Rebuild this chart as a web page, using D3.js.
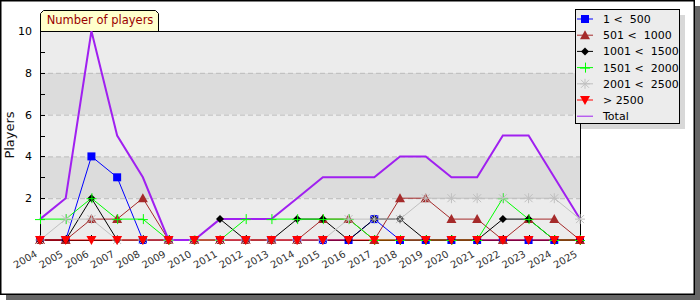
<!DOCTYPE html>
<html lang="en">
<head>
  <meta charset="UTF-8">
  <title>Number of players</title>
  <script src="https://d3js.org/d3.v7.min.js"></script>
  <style type="text/css">
    body { margin: 0; background: #fff; }
    text { font-family: "DejaVu Sans", sans-serif; }
  </style>
</head>
<body>
<script type="text/javascript">
  var years = d3.range(2004, 2026);
  var yTicks = [2, 4, 6, 8, 10];

  var seriesNames = ["1 < 500", "501 < 1000", "1001 < 1500", "1501 < 2000", "2001 < 2500", "> 2500", "Total"];
  var blueVals  = [0,0,4,3,0,0,0,0,0,0,0,0,0,1,0,0,0,0,0,0,0,0];
  var brownVals = [0,0,1,1,2,0,0,0,0,0,0,1,1,0,2,2,1,1,0,1,1,0];
  var blackVals = [0,0,2,0,0,0,0,1,0,0,1,1,0,1,1,0,0,0,1,1,0,0];
  var greenVals = [1,1,2,1,1,0,0,0,1,1,1,1,1,0,0,0,0,0,2,1,0,0];
  var grayVals  = [0,1,1,0,0,0,0,0,0,0,0,0,1,1,1,2,2,2,2,2,2,1];
  var redVals   = [0,0,0,0,0,0,0,0,0,0,0,0,0,0,0,0,0,0,0,0,0,0];
  var totalVals = [1,2,10,5,3,0,0,1,1,1,2,3,3,3,4,4,3,3,5,5,3,1];

  var series = [
    {name: seriesNames[0], vals: blueVals,  color: "#0000ff", mark: "square"},
    {name: seriesNames[1], vals: brownVals, color: "#a52a2a", mark: "triUp"},
    {name: seriesNames[2], vals: blackVals, color: "#000000", mark: "diamond"},
    {name: seriesNames[3], vals: greenVals, color: "#00ff00", mark: "cross"},
    {name: seriesNames[4], vals: grayVals,  color: "#c0c0c0", mark: "star"},
    {name: seriesNames[5], vals: redVals,   color: "#ff0000", mark: "triDown"},
    {name: seriesNames[6], vals: totalVals, color: "#a020f0", mark: "none"}
  ];

  var W = 700, H = 300;
  var svg = d3.select("body").append("svg").attr("width", W).attr("height", H);

  // frame + shadow
  svg.append("rect").attr("x", 6).attr("y", 6).attr("width", 694).attr("height", 294).attr("fill", "#666");
  svg.append("rect").attr("x", 0.75).attr("y", 0.75).attr("width", 693.5).attr("height", 293.5)
     .attr("fill", "#fff").attr("stroke", "#000").attr("stroke-width", 1.5);

  var x = d3.scaleLinear().domain([2004, 2025]).range([40, 580]);
  var y = d3.scaleLinear().domain([0, 10]).range([240, 31]);

  // bands
  var bands = d3.range(0, 10, 2);
  svg.selectAll("rect.band").data(bands).enter().append("rect")
     .attr("x", 40).attr("width", 540)
     .attr("y", function(d){ return y(d + 2); })
     .attr("height", function(d){ return y(d) - y(d + 2); })
     .attr("fill", function(d, i){ return i % 2 ? "#dcdcdc" : "#ececec"; });

  svg.selectAll("line.grid").data([2, 4, 6, 8]).enter().append("line")
     .attr("x1", 40).attr("x2", 580)
     .attr("y1", function(d){ return y(d) + 0.5; }).attr("y2", function(d){ return y(d) + 0.5; })
     .attr("stroke", "#bbb").attr("stroke-dasharray", "5,3");

  // plot border
  svg.append("rect").attr("x", 40.5).attr("y", 31.5).attr("width", 540).attr("height", 209)
     .attr("fill", "none").attr("stroke", "#000");

  // y axis ticks
  svg.selectAll("line.yt").data(d3.range(1, 10)).enter().append("line")
     .attr("x1", 40).attr("x2", 45)
     .attr("y1", function(d){ return Math.round(y(d)) + 0.5; }).attr("y2", function(d){ return Math.round(y(d)) + 0.5; })
     .attr("stroke", "#000");
  svg.selectAll("text.yl").data(yTicks).enter().append("text")
     .attr("x", 32).attr("y", function(d){ return y(d) + 4; })
     .attr("text-anchor", "end").attr("font-size", 11).text(function(d){ return d; });

  svg.append("text").attr("transform", "translate(14,135) rotate(-90)")
     .attr("text-anchor", "middle").attr("font-size", 13).attr("fill", "#111").text("Players");

  // x ticks + labels
  svg.selectAll("line.xt").data(years).enter().append("line")
     .attr("x1", function(d){ return Math.round(x(d)) + 0.5; }).attr("x2", function(d){ return Math.round(x(d)) + 0.5; })
     .attr("y1", 235).attr("y2", 243).attr("stroke", "#000");
  svg.selectAll("text.xl").data(years).enter().append("text")
     .attr("transform", function(d){ return "translate(" + (x(d) - 2) + ",256) rotate(-30)"; })
     .attr("text-anchor", "end").attr("font-size", 10).attr("fill", "#333").text(function(d){ return d; });

  // series
  var line = d3.line().x(function(d, i){ return x(years[i]); }).y(function(d){ return y(d); });

  function marker(g, type, color) {
    if (type === "square") {
      g.append("rect").attr("x", -4).attr("y", -4).attr("width", 8).attr("height", 8).attr("fill", color);
    } else if (type === "triUp") {
      g.append("path").attr("d", "M0,-5L5,4L-5,4Z").attr("fill", color);
    } else if (type === "triDown") {
      g.append("path").attr("d", "M0,5L5,-4L-5,-4Z").attr("fill", color);
    } else if (type === "diamond") {
      g.append("path").attr("d", "M0,-4L4,0L0,4L-4,0Z").attr("fill", color);
    } else if (type === "cross") {
      g.append("path").attr("d", "M-5,0.5H5M0.5,-5V5").attr("stroke", color).attr("fill", "none");
    } else if (type === "star") {
      g.append("path").attr("d", "M-5,0H5M0,-5V5M-4,-4L4,4M-4,4L4,-4").attr("stroke", color).attr("fill", "none");
    }
  }

  series.forEach(function(s){
    svg.append("path").datum(s.vals).attr("d", line)
       .attr("fill", "none").attr("stroke", s.color)
       .attr("stroke-width", s.mark === "none" ? 2 : 1);
  });
  series.forEach(function(s){
    if (s.mark === "none") return;
    s.vals.forEach(function(v, i){
      var g = svg.append("g").attr("transform", "translate(" + x(years[i]) + "," + y(v) + ")");
      marker(g, s.mark, s.color);
    });
  });

  // title tab
  svg.append("path").attr("d", "M40.5,31L40.5,13.5L43.5,10.5L155.5,10.5L158.5,13.5L158.5,31")
     .attr("fill", "#ffffcc").attr("stroke", "#000");
  svg.append("text").attr("x", 100).attr("y", 24).attr("text-anchor", "middle")
     .attr("font-size", 11.5).attr("fill", "#990000").text("Number of players");

  // legend
  var lx = 575, ly = 9, lw = 104, lh = 114;
  svg.append("rect").attr("x", lx + 6).attr("y", ly + 6).attr("width", lw).attr("height", lh).attr("fill", "#d8d8d8");
  svg.append("rect").attr("x", lx + 0.5).attr("y", ly + 0.5).attr("width", lw).attr("height", lh)
     .attr("fill", "#ececec").attr("stroke", "#000");
  series.forEach(function(s, i){
    var cy = 19 + i * 16.2;
    svg.append("line").attr("x1", lx + 2).attr("x2", lx + 18).attr("y1", cy).attr("y2", cy)
       .attr("stroke", s.color).attr("stroke-width", 1);
    var g = svg.append("g").attr("transform", "translate(" + (lx + 10) + "," + cy + ")");
    marker(g, s.mark, s.color);
    svg.append("text").attr("x", lx + 28).attr("y", cy + 4).attr("font-size", 11).attr("fill", "#000")
       .attr("xml:space", "preserve").style("white-space", "pre").text(s.name.replace(" < ", " <  "));
  });
</script>
</body>
</html>
